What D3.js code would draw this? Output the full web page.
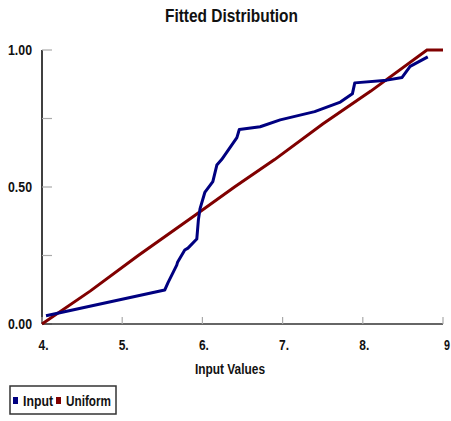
<!DOCTYPE html>
<html>
<head>
<meta charset="utf-8">
<script src="https://cdn.jsdelivr.net/npm/d3@7"></script>
<style>
  html, body { margin: 0; padding: 0; background: #fff; }
  svg text { font-family: "Liberation Sans Narrow", "Arial Narrow", "Liberation Sans", Arial, sans-serif; font-weight: bold; fill: #111; }
</style>
</head>
<body>
<svg id="chart" width="451" height="421"></svg>
<script>
// Empirical CDF of the input sample
const inputX = [4.05, 5.53, 5.57, 5.68, 5.69, 5.78, 5.82, 5.93, 5.95, 5.97, 6.03, 6.13, 6.18, 6.24, 6.43, 6.46, 6.72, 6.97, 7.40, 7.72, 7.87, 7.90, 8.30, 8.49, 8.59, 8.81];
const inputY = [0.03, 0.124, 0.15, 0.215, 0.225, 0.27, 0.277, 0.31, 0.38, 0.42, 0.48, 0.52, 0.58, 0.60, 0.68, 0.71, 0.72, 0.745, 0.775, 0.81, 0.84, 0.88, 0.89, 0.90, 0.94, 0.975];

// Fitted uniform CDF
const uniformX = [4.0, 4.6, 5.2, 5.9, 6.4, 6.9, 7.5, 8.1, 8.8, 9.0];
const uniformY = [0.0, 0.12, 0.25, 0.395, 0.50, 0.60, 0.73, 0.85, 1.0, 1.0];

const xTicks = [4, 5, 6, 7, 8, 9];
const xTickLabels = ["4.", "5.", "6.", "7.", "8.", "9"];
const yTicks = [0, 0.25, 0.5, 0.75, 1];
const yTickLabels = ["0.00", "", "0.50", "", "1.00"];

const seriesNames = ["Input", "Uniform"];
const seriesColors = ["#000080", "#800000"];

const svg = d3.select("#chart");
const x = d3.scaleLinear().domain([4, 9]).range([42, 443]);
const y = d3.scaleLinear().domain([0, 1]).range([324, 50]);

// Narrow bold text: squeeze the glyphs to a set width
function narrowText(sel, width) {
  return sel.attr("textLength", width).attr("lengthAdjust", "spacingAndGlyphs");
}

narrowText(svg.append("text")
  .attr("x", 231.5).attr("y", 22)
  .attr("text-anchor", "middle")
  .attr("font-size", 18)
  .text("Fitted Distribution"), 133);

// Y axis: line, inward grey ticks, labels
svg.append("line").attr("x1", 42).attr("x2", 42).attr("y1", y(1)).attr("y2", y(0))
  .attr("stroke", "#000").attr("stroke-width", 1.5);
svg.selectAll(".ytick").data(yTicks).enter().append("line")
  .attr("x1", 42).attr("x2", 52)
  .attr("y1", d => y(d)).attr("y2", d => y(d))
  .attr("stroke", "#aaa").attr("stroke-width", 1.2);
yTicks.forEach((d, i) => {
  if (!yTickLabels[i]) return;
  narrowText(svg.append("text")
    .attr("x", 8).attr("y", y(d) + 5)
    .attr("font-size", 14)
    .text(yTickLabels[i]), 24);
});

// X axis
svg.append("line").attr("x1", x(4)).attr("x2", x(9)).attr("y1", 324).attr("y2", 324)
  .attr("stroke", "#333").attr("stroke-width", 1.5);
svg.selectAll(".xtick").data(xTicks).enter().append("line")
  .attr("x1", d => x(d)).attr("x2", d => x(d))
  .attr("y1", 317).attr("y2", 324)
  .attr("stroke", "#aaa").attr("stroke-width", 1.2);
xTicks.forEach((d, i) => {
  const last = i === xTicks.length - 1;
  narrowText(svg.append("text")
    .attr("x", x(d) + (last ? 4 : 1.5)).attr("y", 350)
    .attr("text-anchor", "middle").attr("font-size", 14)
    .text(xTickLabels[i]), last ? 6 : 10);
});

narrowText(svg.append("text")
  .attr("x", 230).attr("y", 374)
  .attr("text-anchor", "middle").attr("font-size", 14)
  .text("Input Values"), 70);

const line = d3.line().x(d => x(d[0])).y(d => y(d[1]));
const uniformPts = uniformX.map((v, i) => [v, uniformY[i]]);
const inputPts = inputX.map((v, i) => [v, inputY[i]]);

svg.append("path").datum(uniformPts).attr("d", line)
  .attr("fill", "none").attr("stroke", seriesColors[1]).attr("stroke-width", 3);
svg.append("path").datum(inputPts).attr("d", line)
  .attr("fill", "none").attr("stroke", seriesColors[0]).attr("stroke-width", 3)
  .attr("stroke-linejoin", "round");

// Legend
const lg = svg.append("g");
lg.append("rect").attr("x", 10).attr("y", 386).attr("width", 106).attr("height", 28)
  .attr("fill", "#fff").attr("stroke", "#333").attr("stroke-width", 1.5);
const legendX = [13, 56];
const legendW = [30, 45];
seriesNames.forEach((name, i) => {
  lg.append("rect").attr("x", legendX[i]).attr("y", 397).attr("width", 5).attr("height", 7)
    .attr("fill", seriesColors[i]);
  narrowText(lg.append("text").attr("x", legendX[i] + 10).attr("y", 406)
    .attr("font-size", 14).text(name), legendW[i]);
});
</script>
</body>
</html>
